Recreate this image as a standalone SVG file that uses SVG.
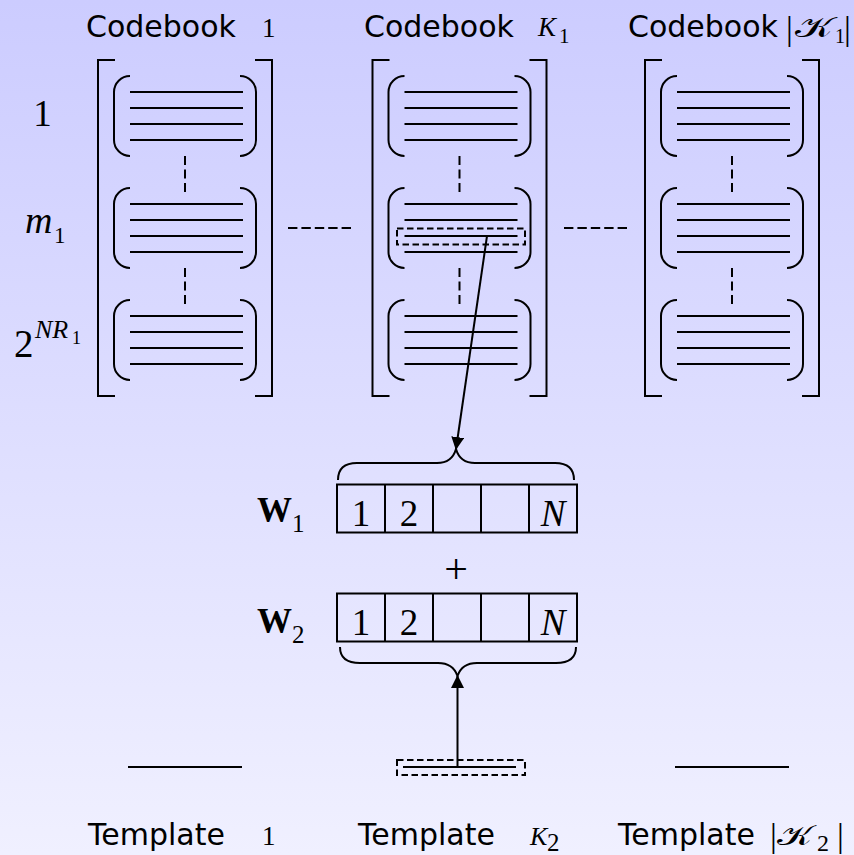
<svg xmlns="http://www.w3.org/2000/svg" width="854" height="855" viewBox="0 0 854 855">
<defs>
<linearGradient id="bg" x1="0" y1="0" x2="0" y2="1">
<stop offset="0" stop-color="#CCCCFF"/>
<stop offset="1" stop-color="#F0F0FF"/>
</linearGradient>
<marker id="ah" markerUnits="userSpaceOnUse" markerWidth="13" markerHeight="13" viewBox="0 0 13 13" refX="12" refY="6.5" orient="auto">
<path d="M0,0 L13,6.5 L0,13 Z" fill="#000"/>
</marker>
<g id="cw">
<path class="ln" d="M16,0 A16,16 0 0 0 0,16 L0,64 A16,16 0 0 0 16,80 M126,0 A16,16 0 0 1 142,16 L142,64 A16,16 0 0 1 126,80"/>
<path class="ln" d="M16,16 H129 M16,32 H129 M16,48 H129 M16,64 H129"/>
</g>
<g id="mat">
<path class="ln" d="M17,60 H0 V396 H17 M157,60 H174 V396 H157"/>
<use href="#cw" x="16" y="76"/>
<use href="#cw" x="16" y="188"/>
<use href="#cw" x="16" y="300"/>
<path class="vd" d="M87,156 V192 M87,268 V304"/>
</g>
</defs>
<style>
.ln{fill:none;stroke:#000;stroke-width:2}
.vd{fill:none;stroke:#000;stroke-width:2;stroke-dasharray:9 4.5}
.hd{fill:none;stroke:#000;stroke-width:2;stroke-dasharray:9.4 4}
.sel{fill:none;stroke:#000;stroke-width:2;stroke-dasharray:6.5 3.5}
.sans{font-family:"DejaVu Sans",Verdana,sans-serif;font-size:30px;fill:#000}
.ser{font-family:"Liberation Serif","Times New Roman",serif;fill:#000}
.it{font-style:italic}
.bd{font-weight:bold}
</style>
<rect width="854" height="855" fill="url(#bg)"/>

<g id="codebook1">
<use href="#mat" x="98" y="0"/>
<text class="sans" x="86" y="37">Codebook</text>
<text class="ser" x="262" y="37" font-size="27">1</text>
</g>
<g id="codebookK1">
<use href="#mat" x="372.5" y="0"/>
<text class="sans" x="364" y="37">Codebook</text>
<text class="ser it" x="538" y="36" font-size="27">K</text>
<text class="ser" x="559" y="43" font-size="21">1</text>
<path class="sel" d="M397,228.5 H525 V244.5 H397 Z"/>
</g>
<g id="codebookAbsK1">
<use href="#mat" x="645" y="0"/>
<text class="sans" x="628" y="37">Codebook</text>
<text class="ser" x="786" y="40" font-size="34">|</text>
<text class="ser" transform="translate(795,37) scale(1.45,1)" font-size="28">𝒦</text>
<text class="ser" x="835" y="43" font-size="20">1</text>
<text class="ser" x="844" y="40" font-size="34">|</text>
</g>

<g id="rowlabels">
<text class="ser" x="42.5" y="126" font-size="37" text-anchor="middle">1</text>
<text class="ser it" x="25" y="233" font-size="38">m</text>
<text class="ser" x="54" y="242.5" font-size="23">1</text>
<text class="ser" x="14" y="357" font-size="39">2</text>
<text class="ser it" x="35" y="338" font-size="26">NR</text>
<text class="ser" x="72" y="344" font-size="18">1</text>
</g>

<g id="w1">
<text class="ser bd" x="257" y="521.5" font-size="35">W</text>
<text class="ser" x="292" y="531.5" font-size="25">1</text>
<rect class="ln" x="337" y="484.5" width="240" height="48"/>
<path class="ln" d="M385,484.5 V532.5 M433,484.5 V532.5 M481,484.5 V532.5 M529,484.5 V532.5"/>
<text class="ser" x="361" y="526" font-size="37" text-anchor="middle">1</text>
<text class="ser" x="409" y="526" font-size="37" text-anchor="middle">2</text>
<text class="ser it" x="553" y="526" font-size="37" text-anchor="middle">N</text>
</g>
<g id="plus">
<text class="ser" x="456" y="583" font-size="42" text-anchor="middle">+</text>
</g>
<g id="w2">
<text class="ser bd" x="257" y="632.5" font-size="35">W</text>
<text class="ser" x="292" y="642.5" font-size="25">2</text>
<rect class="ln" x="337" y="593.5" width="240" height="48"/>
<path class="ln" d="M385,593.5 V641.5 M433,593.5 V641.5 M481,593.5 V641.5 M529,593.5 V641.5"/>
<text class="ser" x="361" y="635" font-size="37" text-anchor="middle">1</text>
<text class="ser" x="409" y="635" font-size="37" text-anchor="middle">2</text>
<text class="ser it" x="553" y="635" font-size="37" text-anchor="middle">N</text>
</g>

<g id="template1">
<path class="ln" d="M128,767 H242"/>
<text class="sans" x="88" y="845">Template</text>
<text class="ser" x="262" y="845" font-size="27">1</text>
</g>
<g id="templateK2">
<path class="sel" d="M397,760 H525 V775 H397 Z"/>
<path class="ln" d="M403,767 H516"/>
<text class="sans" x="358" y="845">Template</text>
<text class="ser it" x="530" y="845" font-size="26">K</text>
<text class="ser" x="547" y="851" font-size="25">2</text>
</g>
<g id="templateAbsK2">
<path class="ln" d="M675,767 H789"/>
<text class="sans" x="618" y="845">Template</text>
<text class="ser" x="770" y="847" font-size="34">|</text>
<text class="ser" transform="translate(777,845) scale(1.4,1)" font-size="27">𝒦</text>
<text class="ser" x="817" y="851" font-size="24">2</text>
<text class="ser" x="837" y="847" font-size="34">|</text>
</g>

<g id="connectors">
<path class="hd" d="M288,228 H352 M564,228 H627"/>
<path class="ln" d="M338,480 Q338,463 357,463 L437,463 Q452,463 456,449 Q460,463 475,463 L555,463 Q574,463 574,480"/>
<path class="ln" d="M340,647 Q340,663 360,663 L438,663 Q453,663 457.5,676 Q462,663 477,663 L556,663 Q576,663 576,647"/>
<line class="ln" x1="487" y1="236" x2="456" y2="449" marker-end="url(#ah)"/>
<line class="ln" x1="457.5" y1="767" x2="457.5" y2="676" marker-end="url(#ah)"/>
</g>
</svg>
